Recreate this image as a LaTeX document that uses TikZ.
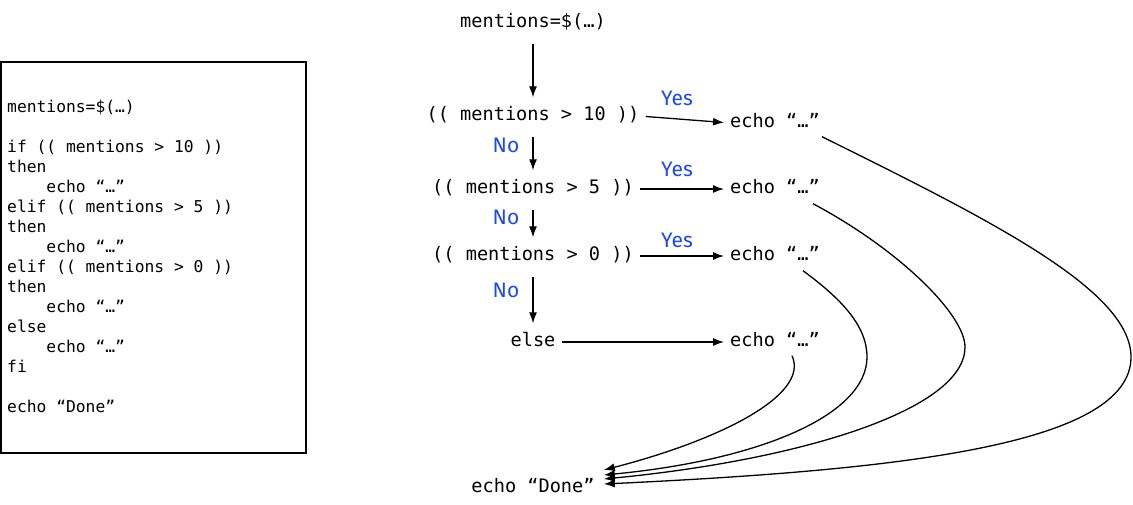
\documentclass[tikz,border=0pt]{standalone}
\usepackage{fontspec}
\setmonofont{DejaVu Sans Mono}
\newfontfamily\handfont{Fira Sans}
\usetikzlibrary{arrows.meta}
\definecolor{labelblue}{RGB}{28,72,240}
\tikzset{
  flow/.style={font=\fontsize{18.6}{20}\selectfont\ttfamily, inner sep=0pt, text height=12pt, text depth=3pt},
  conn/.style={line width=1.3pt, -{Latex[length=11pt,width=8pt]}},
  down/.style={conn, shorten <=13pt, shorten >=11pt},
  side/.style={conn, shorten <=6pt, shorten >=6pt},
  back/.style={line width=1.3pt, -{Latex[length=11pt,width=8pt]}},
  lbl/.style={font=\handfont\fontsize{21}{22}\selectfont, text=labelblue, inner sep=0pt},
  codebox/.style={draw, line width=1.5pt}
}
\begin{document}
\begin{tikzpicture}[x=1pt,y=-1pt]
\useasboundingbox (0,0) rectangle (1133,504);
% code box
\draw[codebox] (1,62) rectangle (306,453);
\node[anchor=north west, inner sep=0pt, align=left, font=\fontsize{16.3}{20}\selectfont\ttfamily] (code) at (7,100) {%
mentions=\$(…)\\
\mbox{}\\
if (( mentions > 10 ))\\
then\\
\phantom{xxxx}echo “…”\\
elif (( mentions > 5 ))\\
then\\
\phantom{xxxx}echo “…”\\
elif (( mentions > 0 ))\\
then\\
\phantom{xxxx}echo “…”\\
else\\
\phantom{xxxx}echo “…”\\
fi\\
\mbox{}\\
echo “Done”};
% flow nodes
\node[flow] (top) at (533,23) {mentions=\$(…)};
\node[flow] (c1) at (533,116) {(( mentions > 10 ))};
\node[flow] (c2) at (533,189) {(( mentions > 5 ))};
\node[flow] (c3) at (533,256) {(( mentions > 0 ))};
\node[flow] (els) at (533,342) {else};
\node[flow] (e1) at (775,123) {echo “…”};
\node[flow] (e2) at (775,189) {echo “…”};
\node[flow] (e3) at (775,256) {echo “…”};
\node[flow] (e4) at (775,342) {echo “…”};
\node[flow] (done) at (533,488) {echo “Done”};
% vertical arrows
\draw[down] (top.south) -- (c1.north);
\draw[down] (c1.south) -- (c2.north);
\draw[down] (c2.south) -- (c3.north);
\draw[down] (c3.south) -- (els.north);
% horizontal arrows
\draw[side] (c1.east) -- (e1.west);
\draw[side] (c2.east) -- (e2.west);
\draw[side] (c3.east) -- (e3.west);
\draw[side] (els.east) -- (e4.west);
% labels
\node[lbl] (y1) at (677,98) {Yes};
\node[lbl] (y2) at (677,169) {Yes};
\node[lbl] (y3) at (677,240) {Yes};
\node[lbl] (n1) at (506,145) {No};
\node[lbl] (n2) at (506,217) {No};
\node[lbl] (n3) at (506,290) {No};
% back curves
\draw[back] ([xshift=47pt,yshift=-6pt]e1.south) .. controls (990,220) and (1131,290) .. (1131,357)
  .. controls (1131,445) and (900,470) .. ([xshift=9pt,yshift=4pt]done.east);
\draw[back] ([xshift=38pt,yshift=-7pt]e2.south) .. controls (900,250) and (965,315) .. (965,347)
  .. controls (965,410) and (800,460) .. ([xshift=9pt,yshift=9pt]done.east);
\draw[back] ([xshift=28pt,yshift=-7pt]e3.south) .. controls (840,298) and (867,325) .. (867,357)
  .. controls (867,415) and (760,460) .. ([xshift=9pt,yshift=13pt]done.east);
\draw[back] ([xshift=17pt,yshift=-6pt]e4.south) .. controls (810,395) and (720,440) .. ([xshift=9pt,yshift=18pt]done.east);
\end{tikzpicture}
\end{document}
